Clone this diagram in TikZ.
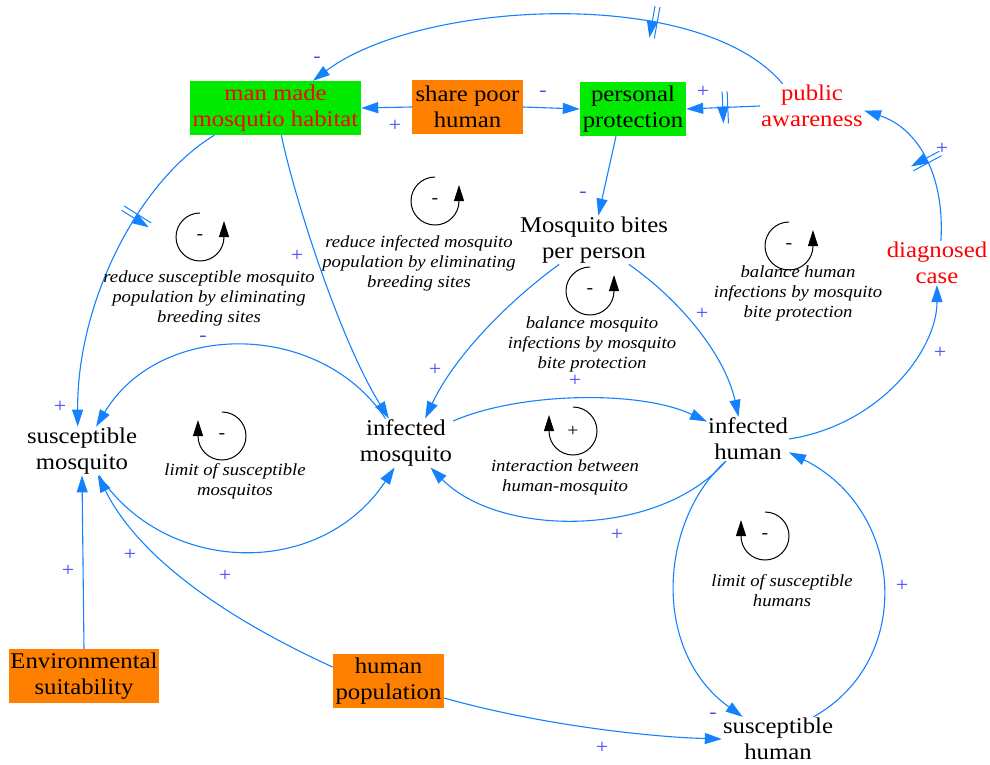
\documentclass[tikz,border=0pt]{standalone}
\usepackage{fontspec}
\setmainfont{Liberation Serif}[FakeStretch=1.1]
\usetikzlibrary{arrows.meta,decorations.markings}
\definecolor{linkblue}{RGB}{20,130,255}
\definecolor{polblue}{RGB}{70,70,255}
\definecolor{boxgreen}{RGB}{0,235,0}
\definecolor{boxorange}{RGB}{255,128,0}
\definecolor{txtred}{RGB}{255,0,0}

% loop symbol turning counter-clockwise (gap upper right)
\newcommand\ccwloop[4]{%
  \draw[loopline] (#1,#2) ++(90:24) arc[start angle=90,end angle=360,radius=24] -- ++(0,16);
  \node[loopsign] (#4) at (#1,#2) {#3};}
% loop symbol turning clockwise (gap upper left)
\newcommand\cwloop[4]{%
  \draw[loopline] (#1,#2) ++(90:24) arc[start angle=90,end angle=-180,radius=24] -- ++(0,16);
  \node[loopsign] (#4) at (#1,#2) {#3};}

\begin{document}
\begin{tikzpicture}[x=1pt,y=1pt,
  var/.style={align=center, inner sep=1pt, font=\fontsize{22.5}{26}\selectfont},
  box/.style={var, inner sep=0pt, minimum height=54},
  link/.style={draw=linkblue, line width=1.1pt, -{Triangle[length=17pt,width=11pt]}},
  pol/.style={text=polblue, font=\fontsize{20}{20}\selectfont, inner sep=0pt},
  looplbl/.style={align=center, inner sep=0pt, font=\fontsize{17}{20}\selectfont\itshape},
  loopsign/.style={inner sep=0pt, font=\fontsize{18}{18}\selectfont},
  loopline/.style={draw=black, line width=1pt, -{Triangle[length=16pt,width=10pt]}},
  delaymark/.style={postaction={decorate, decoration={markings,
      mark=at position #1 with {\draw[linkblue, line width=1pt]
        (-2.5,-16) -- (-2.5,16) (2.5,-16) -- (2.5,16);}}}},
]
\fill[white] (0,0) rectangle (990,-764);
\useasboundingbox (0,0) rectangle (990,-764);

% variables
\node[var] (smos) at (82,-451) {susceptible\\mosquito};
\node[var] (imos) at (406,-443) {infected\\mosquito};
\node[var] (ihum) at (748,-439) {infected\\human};
\node[var] (shum) at (778,-739) {susceptible\\human};
\node[var] (bites) at (594,-240) {Mosquito bites\\per person};
\node[var, text=txtred] (aware) at (812,-106) {public\\awareness};
\node[var, text=txtred] (diag) at (937,-263) {diagnosed\\case};
\node[box, fill=boxgreen, text=txtred, minimum width=171] (made) at (275.5,-108) {man made\\mosqutio habitat};
\node[box, fill=boxorange, minimum width=111] (share) at (467.5,-107) {share poor\\human};
\node[box, fill=boxgreen, minimum width=106] (prot) at (633,-109) {personal\\protection};
\node[box, fill=boxorange, minimum width=150] (env) at (84,-676) {Environmental\\suitability};
\node[box, fill=boxorange, minimum width=111] (hpop) at (388.5,-681) {human\\population};

% causal links
\draw[link, delaymark=0.29] (aware.143) .. controls (700,15) and (420,0) .. (made.36);
\draw[link] (share.west) -- (made.east);
\draw[link] (share.east) -- (prot.west);
\draw[link, delaymark=0.47] (aware.west) -- (prot.east);
\draw[link, delaymark=0.5] (diag.80) .. controls (945,-175) and (918,-128) .. (aware.-5);
\draw[link] (ihum.east) .. controls (880,-425) and (937,-350) .. (diag.south);
\draw[link] (prot.-122) -- (bites.80);
\draw[link] (bites.-145) .. controls (510,-300) and (455,-355) .. (imos.52);
\draw[link] (bites.-35) .. controls (680,-300) and (725,-355) .. (ihum.113);
\draw[link] (made.-78) .. controls (295,-200) and (340,-340) .. (imos.125);
\draw[link, delaymark=0.34] (made.-156) .. controls (140,-180) and (77,-300) .. (smos.100);
\draw[link] (imos.130) .. controls (320,-320) and (160,-320) .. (smos.60);
\draw[link] (smos.-55) .. controls (165,-575) and (320,-580) .. (imos.-115);
\draw[link] (imos.25) .. controls (520,-392) and (640,-390) .. (ihum.157);
\draw[link] (ihum.-135) .. controls (660,-538) and (500,-538) .. (imos.-45);
\draw[link] (ihum.-135) .. controls (660,-520) and (650,-650) .. (shum.148);
\draw[link] (shum.32) .. controls (915,-660) and (905,-510) .. (ihum.-18);
\draw[link] (env.north) -- (smos.south);
\draw[link] (hpop.166) .. controls (230,-620) and (140,-560) .. (smos.-57);
\draw[link] (hpop.-17) .. controls (540,-725) and (650,-737) .. (shum.west);

% link polarities
\node[pol] (s1) at (317,-60) {-};
\node[pol] (s2) at (395,-126) {+};
\node[pol] (s3) at (543,-94) {-};
\node[pol] (s4) at (703,-92) {+};
\node[pol] (s5) at (942,-149) {+};
\node[pol] (s6) at (583,-195) {-};
\node[pol] (s7) at (297,-256) {+};
\node[pol] (s8) at (203,-339) {-};
\node[pol] (s9) at (60,-407) {+};
\node[pol] (s10) at (435,-370) {+};
\node[pol] (s11) at (575,-381) {+};
\node[pol] (s12) at (702,-314) {+};
\node[pol] (s13) at (940,-353) {+};
\node[pol] (s14) at (617,-535) {+};
\node[pol] (s15) at (68,-571) {+};
\node[pol] (s16) at (130,-555) {+};
\node[pol] (s17) at (225,-576) {+};
\node[pol] (s18) at (713,-716) {-};
\node[pol] (s19) at (902,-586) {+};
\node[pol] (s20) at (602,-748) {+};

% feedback loop symbols
\ccwloop{200}{-237}{-}{lp1}
\ccwloop{435}{-201}{-}{lp2}
\ccwloop{590}{-291}{-}{lp3}
\ccwloop{789}{-246}{-}{lp4}
\cwloop{222}{-436}{-}{lp5}
\cwloop{573}{-431}{+}{lp6}
\cwloop{765}{-536}{-}{lp7}

% loop names
\node[looplbl] (lab1) at (209,-298) {reduce susceptible mosquito\\population by eliminating\\breeding sites};
\node[looplbl] (lab2) at (419,-263) {reduce infected mosquito\\population by eliminating\\breeding sites};
\node[looplbl] (lab3) at (592,-344) {balance mosquito\\infections by mosquito\\bite protection};
\node[looplbl] (lab4) at (798,-293) {balance human\\infections by mosquito\\bite protection};
\node[looplbl] (lab5) at (235,-481) {limit of susceptible\\mosquitos};
\node[looplbl] (lab6) at (565,-477) {interaction between\\human-mosquito};
\node[looplbl] (lab7) at (782,-591) {limit of susceptible\\humans};
\end{tikzpicture}
\end{document}
